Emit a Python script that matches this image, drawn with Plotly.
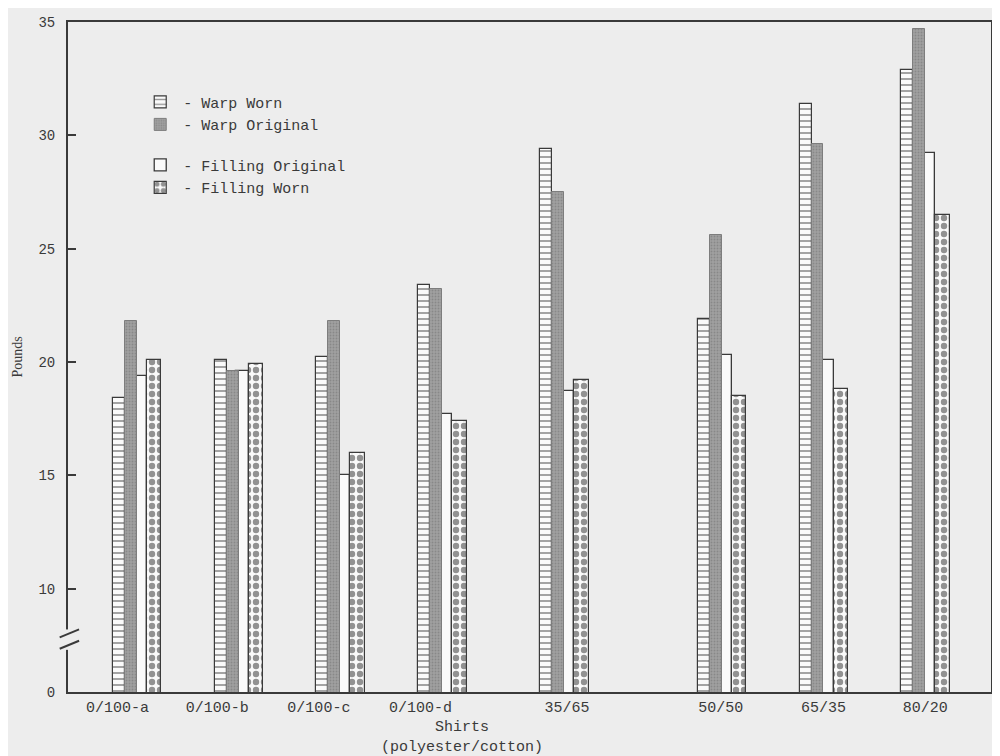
import plotly.graph_objects as go

# ---- data ----
categories = ["0/100-a", "0/100-b", "0/100-c", "0/100-d", "35/65", "50/50", "65/35", "80/20"]
group_x = [1.0, 2.0, 3.0, 4.0, 5.2, 6.75, 7.75, 8.75]
label_x = [0.81, 1.79, 2.79, 3.79, 5.23, 6.74, 7.75, 8.75]

warp_worn = [18.4, 20.1, 20.2, 23.4, 29.4, 21.9, 31.4, 32.9]
warp_original = [21.8, 19.6, 21.8, 23.2, 27.5, 25.6, 29.6, 34.7]
filling_original = [19.4, 19.6, 15.0, 17.7, 18.7, 20.3, 20.1, 29.2]
filling_worn = [20.1, 19.9, 16.0, 17.4, 19.2, 18.5, 18.8, 26.5]

y_tick_vals = [5.44, 10, 15, 20, 25, 30, 35]
y_tick_text = ["0", "10", "15", "20", "25", "30", "35"]

# ---- style ----
BG = "#ededed"
INK = "#3a3a3a"
WHITE = "#fafafa"
MONO = "Liberation Mono, Courier New, monospace"

fig = go.Figure()

# Filling original first (sits behind the other bars)
fig.add_trace(go.Bar(
    x=group_x, y=filling_original, name="- Filling Original",
    offset=-0.02, width=0.12,
    marker=dict(color=WHITE, line=dict(color=INK, width=1.3)),
    legendgroup="filling", legendrank=3,
))
fig.add_trace(go.Bar(
    x=group_x, y=warp_worn, name="- Warp Worn",
    offset=-0.235, width=0.118,
    marker=dict(color=WHITE, line=dict(color=INK, width=1.2),
                pattern=dict(shape="-", fgcolor=INK, bgcolor=WHITE, size=6, solidity=0.3)),
    legendgroup="warp", legendrank=1,
))
fig.add_trace(go.Bar(
    x=group_x, y=warp_original, name="- Warp Original",
    offset=-0.117, width=0.117,
    marker=dict(color="#959595", line=dict(color="#7d7d7d", width=1),
                pattern=dict(shape=".", fgcolor="#707070", bgcolor="#a0a0a0", size=3, solidity=0.3)),
    legendgroup="warp", legendrank=2,
))
fig.add_trace(go.Bar(
    x=group_x, y=filling_worn, name="- Filling Worn",
    offset=0.1, width=0.142,
    marker=dict(color=WHITE, line=dict(color=INK, width=1.2),
                pattern=dict(shape=".", fgcolor="#2a2a2a", bgcolor=WHITE, size=8, solidity=0.5)),
    legendgroup="filling", legendrank=4,
))

# axis break marks on the y axis
shapes = [
    dict(type="rect", xref="paper", yref="y", x0=-0.006, x1=0.006, y0=7.3, y1=8.2,
         fillcolor=BG, line=dict(width=0), layer="above"),
    dict(type="line", xref="paper", yref="y", x0=-0.009, x1=0.012, y0=7.35, y1=7.7,
         line=dict(color=INK, width=2), layer="above"),
    dict(type="line", xref="paper", yref="y", x0=-0.009, x1=0.012, y0=7.85, y1=8.2,
         line=dict(color=INK, width=2), layer="above"),
]

fig.update_layout(
    width=992, height=748,
    margin=dict(l=60, r=7, t=10, b=64),
    paper_bgcolor=BG, plot_bgcolor=BG,
    barmode="overlay",
    bargap=0,
    font=dict(family=MONO, size=14, color=INK),
    showlegend=True,
    legend=dict(
        x=0.075, y=0.905, xanchor="left", yanchor="top",
        bgcolor="rgba(0,0,0,0)", borderwidth=0,
        font=dict(family=MONO, size=15, color=INK),
        traceorder="grouped", tracegroupgap=18, itemwidth=36,
    ),
    xaxis=dict(
        range=[0.324, 9.397],
        tickmode="array", tickvals=label_x, ticktext=categories,
        ticks="", showgrid=False, zeroline=False,
        showline=True, linecolor=INK, linewidth=2, mirror=True,
        tickfont=dict(family=MONO, size=15, color=INK),
    ),
    yaxis=dict(
        range=[5.44, 35],
        tickmode="array", tickvals=y_tick_vals, ticktext=y_tick_text,
        ticks="inside", ticklen=8, tickwidth=2, tickcolor=INK,
        ticklabelstandoff=8,
        showgrid=False, zeroline=False,
        showline=True, linecolor=INK, linewidth=2, mirror=True,
        tickfont=dict(family=MONO, size=14, color=INK),
        title=dict(text="Pounds", font=dict(family="Liberation Serif, serif", size=14, color=INK),
                   standoff=12),
    ),
    shapes=shapes,
    annotations=[
        dict(text="Shirts<br>(polyester/cotton)", xref="paper", yref="paper",
             x=0.427, y=-0.038, xanchor="center", yanchor="top", showarrow=False,
             font=dict(family=MONO, size=15, color=INK)),
    ],
)

fig.write_html("out.html")
